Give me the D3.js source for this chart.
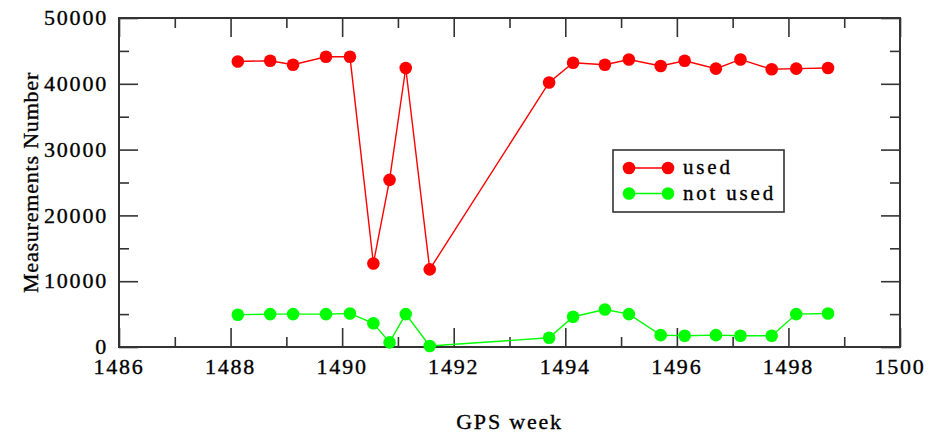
<!DOCTYPE html>
<html>
<head>
<meta charset="utf-8">
<script src="https://cdn.jsdelivr.net/npm/d3@7"></script>
<style>
  html, body { margin: 0; padding: 0; background: #fff; }
  svg { display: block; }
  text { font-family: "Liberation Serif", "DejaVu Serif", serif; fill: #000; stroke: #000; stroke-width: 0.35; }
</style>
</head>
<body>
<svg id="chart" width="948" height="434"></svg>
<script>
// GPS week of each weekly solution
const weeks = [1488.13, 1488.71, 1489.12, 1489.71, 1490.14, 1490.56, 1490.85, 1491.14, 1491.57,
               1493.71, 1494.14, 1494.71, 1495.14, 1495.71, 1496.14, 1496.70, 1497.14, 1497.70,
               1498.14, 1498.71];
// Measurements accepted by the solution
const usedCounts = [43400, 43500, 42900, 44100, 44100, 12700, 25400, 42400, 11800,
                    40200, 43200, 42900, 43700, 42700, 43500, 42300, 43700, 42200,
                    42300, 42400];
// Measurements rejected
const notUsedCounts = [4900, 5000, 5000, 5000, 5100, 3600, 700, 5000, 150,
                       1400, 4600, 5700, 5000, 1800, 1700, 1800, 1700, 1700,
                       5000, 5100];
const seriesNames = ["used", "not used"];
const seriesColors = ["#ff0000", "#00ff00"];
const xTicks = [1486, 1488, 1490, 1492, 1494, 1496, 1498, 1500];
const yTicks = [0, 10000, 20000, 30000, 40000, 50000];
const xLabel = "GPS week";
const yLabel = "Measurements Number";

const svg = d3.select("#chart");
const W = 948, H = 434;
const m = { left: 119, right: 48, top: 18, bottom: 87 };
const pw = W - m.left - m.right, ph = H - m.top - m.bottom;

const x = d3.scaleLinear().domain([1486, 1500]).range([m.left, m.left + pw]);
const y = d3.scaleLinear().domain([0, 50000]).range([m.top + ph, m.top]);

const frameColor = "#333";
const g = svg.append("g");

// major and minor ticks, drawn inward on all four sides
const xMinor = d3.range(1487, 1500, 2);
const yMinor = d3.range(5000, 50000, 10000);
function styleAxis(sel) {
  sel.select(".domain").remove();
  sel.selectAll("line").attr("stroke", frameColor).attr("stroke-width", 1.6);
}
const bottomY = m.top + ph, topY = m.top, leftX = m.left, rightX = m.left + pw;
[[xTicks, 19], [xMinor, 10]].forEach(([vals, len]) => {
  g.append("g").attr("transform", `translate(0,${bottomY})`)
    .call(d3.axisBottom(x).tickValues(vals).tickSize(-len).tickFormat("")).call(styleAxis);
  g.append("g").attr("transform", `translate(0,${topY})`)
    .call(d3.axisTop(x).tickValues(vals).tickSize(-len).tickFormat("")).call(styleAxis);
});
[[yTicks, 19], [yMinor, 10]].forEach(([vals, len]) => {
  g.append("g").attr("transform", `translate(${leftX},0)`)
    .call(d3.axisLeft(y).tickValues(vals).tickSize(-len).tickFormat("")).call(styleAxis);
  g.append("g").attr("transform", `translate(${rightX},0)`)
    .call(d3.axisRight(y).tickValues(vals).tickSize(-len).tickFormat("")).call(styleAxis);
});

// frame
g.append("rect").attr("x", leftX).attr("y", topY).attr("width", pw).attr("height", ph)
  .attr("fill", "none").attr("stroke", frameColor).attr("stroke-width", 2);

// tick labels
const labelFont = 22;
g.selectAll(".xl").data(xTicks).enter().append("text")
  .attr("x", d => x(d)).attr("y", bottomY + 27)
  .attr("text-anchor", "middle").attr("font-size", labelFont)
  .attr("letter-spacing", 1.8)
  .text(d => d);
g.selectAll(".yl").data(yTicks).enter().append("text")
  .attr("x", leftX - 11).attr("y", d => y(d)).attr("dy", "0.33em")
  .attr("text-anchor", "end").attr("font-size", labelFont)
  .attr("letter-spacing", 1.8)
  .text(d => d);

// axis titles
g.append("text").attr("x", x(1493)).attr("y", 429)
  .attr("text-anchor", "middle").attr("font-size", labelFont).attr("letter-spacing", 1.8)
  .text(xLabel);
g.append("text").attr("transform", `translate(38,${(topY + bottomY) / 2}) rotate(-90)`)
  .attr("text-anchor", "middle").attr("font-size", labelFont).attr("letter-spacing", 0.8)
  .text(yLabel);

// series
const series = [usedCounts, notUsedCounts];
const line = d3.line().x((d, i) => x(weeks[i])).y(d => y(d));
series.forEach((vals, s) => {
  g.append("path").datum(vals).attr("d", line)
    .attr("fill", "none").attr("stroke", seriesColors[s]).attr("stroke-width", 1.4);
  g.selectAll(`.pt${s}`).data(vals).enter().append("circle")
    .attr("cx", (d, i) => x(weeks[i])).attr("cy", d => y(d)).attr("r", 6.3)
    .attr("fill", seriesColors[s]);
});

// legend
const lg = g.append("g");
lg.append("rect").attr("x", 613).attr("y", 150).attr("width", 171).attr("height", 62)
  .attr("fill", "#fff").attr("stroke", frameColor).attr("stroke-width", 1.6);
seriesNames.forEach((name, s) => {
  const ly = 168 + s * 25.5;
  lg.append("line").attr("x1", 629).attr("x2", 668).attr("y1", ly).attr("y2", ly)
    .attr("stroke", seriesColors[s]).attr("stroke-width", 1.4);
  [629, 668].forEach(cx => lg.append("circle").attr("cx", cx).attr("cy", ly).attr("r", 6.3)
    .attr("fill", seriesColors[s]));
  lg.append("text").attr("x", 683).attr("y", ly).attr("dy", "0.3em")
    .attr("font-size", 21).attr("letter-spacing", 2.8).text(name);
});
</script>
</body>
</html>
